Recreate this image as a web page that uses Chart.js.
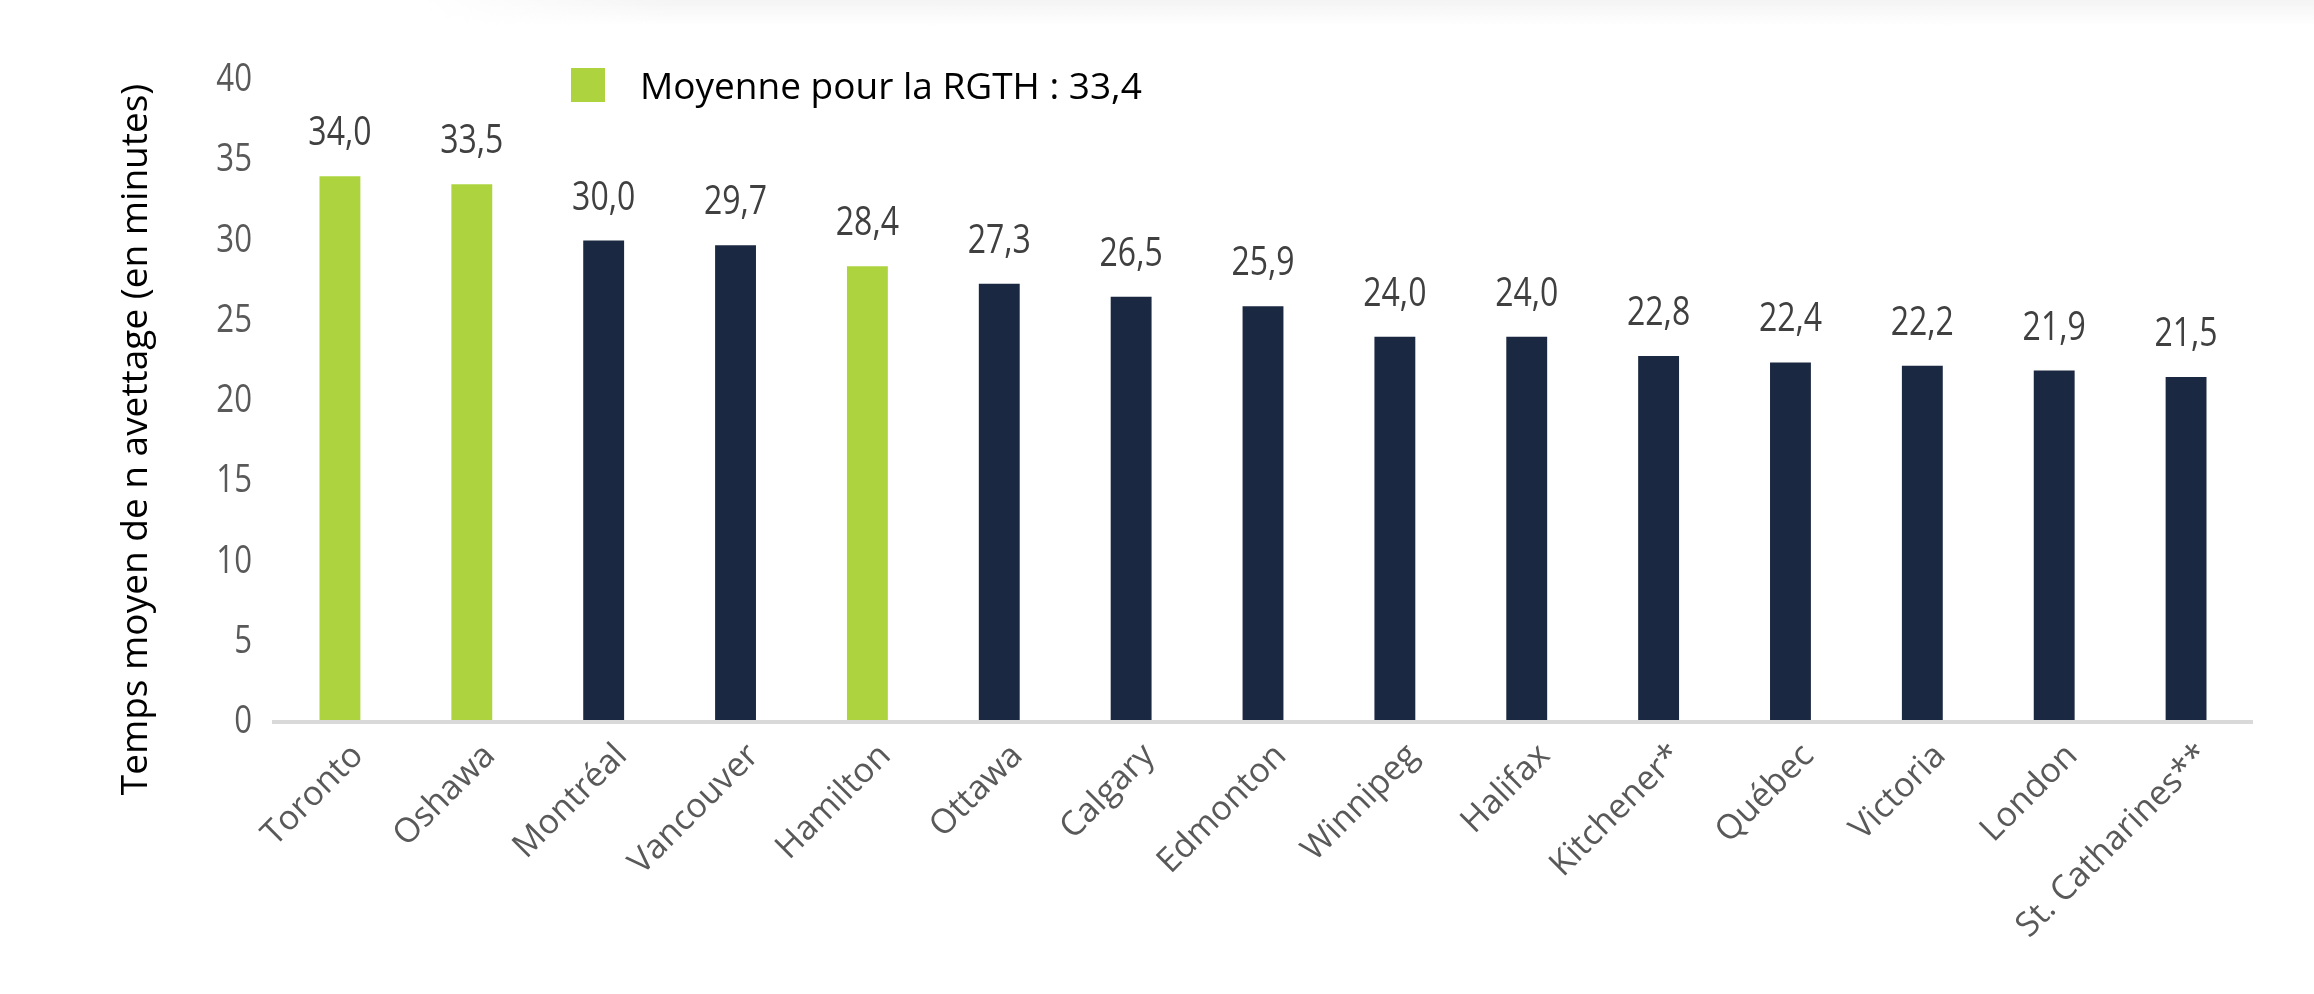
<!DOCTYPE html>
<html lang="fr">
<head>
<meta charset="utf-8">
<script src="https://cdn.jsdelivr.net/npm/chart.js@4.4.1/dist/chart.umd.min.js"></script>
<style>
  html, body { margin: 0; padding: 0; background: #fff; }
  #wrap { position: relative; width: 2314px; height: 994px; }
  #ombre { position: absolute; left: 420px; right: 0; top: 0; height: 26px;
           background: linear-gradient(#f4f4f4, rgba(255,255,255,0));
           -webkit-mask-image: linear-gradient(to right, transparent, #000 250px);
           mask-image: linear-gradient(to right, transparent, #000 250px); }
  #legend { position: absolute; left: 571px; top: 59px; display: flex; align-items: center;
            font-family: 'Open Sans', sans-serif; font-size: 37px; color: #000; }
  #legend .box { width: 34px; height: 34px; margin-right: 35px; }
  #legend .txt { white-space: nowrap; }
</style>
</head>
<body>
<div id="wrap">
  <canvas id="chart" width="2314" height="994"></canvas>
  <div id="ombre"></div>
  <div id="legend"></div>
</div>
<script>
const villes = ['Toronto', 'Oshawa', 'Montréal', 'Vancouver', 'Hamilton', 'Ottawa', 'Calgary',
  'Edmonton', 'Winnipeg', 'Halifax', 'Kitchener*', 'Québec', 'Victoria', 'London', 'St. Catharines**'];
const tempsMoyen = [34.0, 33.5, 30.0, 29.7, 28.4, 27.3, 26.5, 25.9, 24.0, 24.0, 22.8, 22.4, 22.2, 21.9, 21.5];
const dansRGTH = [true, true, false, false, true, false, false, false, false, false, false, false, false, false, false];
const moyenneRGTH = 33.4;
const yTicks = [0, 5, 10, 15, 20, 25, 30, 35, 40];

const vert = '#ADD43F';
const marine = '#1B2841';
const serre = 0.8; // chiffres un peu condenses comme dans l'original

function fmt(v) {
  return v.toFixed(1).replace('.', ',');
}

// legende
const legend = document.getElementById('legend');
legend.innerHTML = `<span class="box" style="background:${vert}"></span><span class="txt">Moyenne pour la RGTH : ${fmt(moyenneRGTH)}</span>`;

function texteSerre(ctx, txt, x, y) {
  ctx.save();
  ctx.translate(x, y);
  ctx.scale(serre, 1);
  ctx.fillText(txt, 0, 0);
  ctx.restore();
}

const chiffres = {
  id: 'chiffres',
  afterDatasetsDraw(chart) {
    const ctx = chart.ctx;
    const meta = chart.getDatasetMeta(0);
    ctx.save();
    ctx.font = '40px "Open Sans"';
    ctx.fillStyle = '#404040';
    ctx.textAlign = 'center';
    ctx.textBaseline = 'alphabetic';
    meta.data.forEach((bar, i) => {
      texteSerre(ctx, fmt(tempsMoyen[i]), bar.x, bar.y - 31);
    });

    // graduations de l'axe y
    const y = chart.scales.y;
    ctx.font = '39px "Open Sans"';
    ctx.fillStyle = '#595959';
    ctx.textAlign = 'right';
    ctx.textBaseline = 'middle';
    yTicks.forEach(v => {
      texteSerre(ctx, String(v), chart.chartArea.left - 22, y.getPixelForValue(v));
    });
    ctx.restore();
  }
};

const ctx = document.getElementById('chart').getContext('2d');
new Chart(ctx, {
  type: 'bar',
  data: {
    labels: villes,
    datasets: [{
      data: tempsMoyen,
      backgroundColor: dansRGTH.map(r => r ? vert : marine),
      borderWidth: 0,
      categoryPercentage: 1,
      barPercentage: 0.31
    }]
  },
  options: {
    responsive: false,
    devicePixelRatio: 1,
    animation: false,
    layout: { padding: { left: 85, right: 62, top: 80, bottom: 0 } },
    plugins: {
      legend: { display: false },
      tooltip: { enabled: false }
    },
    scales: {
      x: {
        grid: { display: false },
        border: { display: true, color: '#D9D9D9', width: 4, z: 1 },
        ticks: {
          color: '#595959',
          font: { family: 'Open Sans', size: 34 },
          minRotation: 45,
          maxRotation: 45,
          padding: 6,
          labelOffset: 18,
          autoSkip: false
        },
        afterFit(scale) { scale.height = 272; }
      },
      y: {
        min: 0,
        max: 40,
        grid: { display: false },
        border: { display: false },
        afterBuildTicks(scale) { scale.ticks = yTicks.map(v => ({ value: v })); },
        ticks: { display: false },
        title: {
          display: true,
          text: 'Temps moyen de n avettage (en minutes)' + '\u00a0'.repeat(8),
          color: '#000',
          font: { family: 'Open Sans', size: 37 },
          padding: { top: 29, bottom: 0 }
        },
        afterFit(scale) { scale.width = 274 - 85; }
      }
    }
  },
  plugins: [chiffres]
});
</script>
</body>
</html>
